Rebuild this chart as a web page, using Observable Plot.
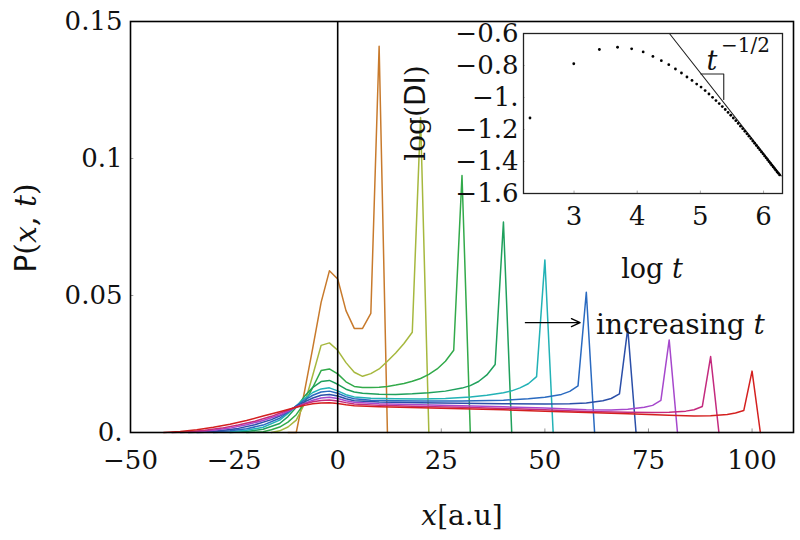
<!DOCTYPE html>
<html><head><meta charset="utf-8">
<script src="https://cdn.jsdelivr.net/npm/d3@7"></script>
<script src="https://cdn.jsdelivr.net/npm/@observablehq/plot@0.6"></script>
<style>
html,body{margin:0;padding:0;background:#fff;}
#wrap{position:relative;width:800px;height:540px;overflow:hidden;font-family:"DejaVu Serif",serif;color:#111;}
#wrap svg{position:absolute;overflow:visible;}
.lbl{position:absolute;white-space:nowrap;line-height:1;}
.sans{font-family:"DejaVu Sans",sans-serif;}
</style></head><body><div id="wrap"></div>
<script>
// ---- main panel data: P(x,t) curves, one per time (peak at x = 10,20,...,100)
const curve10 = [[-12,0],[-10,0],[-8,0.015],[-6,0.031],[-4,0.0475],[-2,0.059],[0,0.056],[2,0.0445],[4,0.038],[6,0.038],[8,0.0435],[10,0.141],[12,0]];
const curve20 = [[-16,0],[-14,0.0006],[-12,0.002],[-10,0.0045],[-8,0.0105],[-6,0.021],[-4,0.0318],[-2,0.0327],[0,0.030],[2,0.0255],[4,0.022],[6,0.0205],[8,0.0215],[10,0.0232],[12,0.026],[14,0.029],[16,0.0325],[18,0.0366],[20,0.115],[22,0]];
const curve30 = [[-22,0],[-18,0.0003],[-16,0.001],[-14,0.002],[-12,0.0038],[-10,0.0065],[-8,0.0108],[-6,0.0165],[-4,0.0226],[-2,0.0232],[0,0.0214],[2,0.0185],[4,0.0168],[6,0.0164],[8,0.0164],[10,0.0165],[12,0.0168],[14,0.0173],[16,0.0179],[18,0.0187],[20,0.0197],[22,0.0212],[24,0.0232],[26,0.026],[28,0.030],[30,0.0938],[32,0]];
const curve40 = [[-26,0],[-22,0.0004],[-18,0.0012],[-14,0.0033],[-12,0.0058],[-10,0.0092],[-8,0.0132],[-6,0.0165],[-4,0.0186],[-2,0.019],[0,0.0176],[2,0.0158],[4,0.0148],[6,0.0143],[10,0.014],[14,0.0139],[18,0.0141],[22,0.0145],[26,0.0151],[30,0.0162],[32,0.0171],[34,0.0186],[36,0.021],[38,0.0248],[40,0.0768],[42,0]];
const curve50 = [[-30,0],[-26,0.0003],[-22,0.0008],[-18,0.0019],[-14,0.0045],[-12,0.007],[-10,0.0097],[-8,0.0124],[-6,0.0146],[-4,0.0159],[-2,0.0163],[0,0.0152],[2,0.0138],[4,0.013],[8,0.0125],[14,0.0123],[20,0.0122],[26,0.0124],[32,0.013],[36,0.0136],[40,0.0145],[42,0.0152],[44,0.0163],[46,0.0178],[48,0.0204],[50,0.063],[52,0]];
const curve60 = [[-34,0],[-30,0.0002],[-26,0.0006],[-22,0.0014],[-18,0.0027],[-14,0.0052],[-12,0.0074],[-10,0.0097],[-8,0.0118],[-6,0.0136],[-4,0.0148],[-2,0.0151],[0,0.0143],[2,0.0131],[4,0.0123],[8,0.0118],[14,0.0116],[20,0.0115],[30,0.0115],[40,0.0118],[46,0.0123],[50,0.0129],[54,0.0139],[56,0.015],[58,0.017],[60,0.0512],[62,0]];
const curve70 = [[-36,0],[-32,0.0002],[-28,0.0007],[-24,0.0015],[-20,0.0028],[-16,0.0047],[-14,0.006],[-12,0.0077],[-10,0.0095],[-8,0.0112],[-6,0.0126],[-4,0.0136],[-2,0.0139],[0,0.0133],[2,0.0123],[4,0.0116],[10,0.0111],[20,0.0109],[30,0.0107],[40,0.0105],[50,0.0104],[56,0.0105],[60,0.0108],[64,0.0116],[66,0.0124],[68,0.0141],[70,0.038],[72,0]];
const curve80 = [[-38,0],[-34,0.0003],[-30,0.0008],[-26,0.0016],[-22,0.0028],[-18,0.0044],[-14,0.0064],[-12,0.0077],[-10,0.0092],[-8,0.0106],[-6,0.0118],[-4,0.0126],[-2,0.0129],[0,0.0124],[2,0.0116],[4,0.011],[10,0.0105],[20,0.0101],[30,0.0098],[40,0.0094],[50,0.0089],[60,0.0083],[66,0.0082],[70,0.0085],[74,0.0092],[76,0.0099],[78,0.0117],[80,0.0338],[82,0]];
const curve90 = [[-40,0],[-36,0.0003],[-32,0.0008],[-28,0.0016],[-24,0.0027],[-20,0.0041],[-16,0.0059],[-14,0.007],[-12,0.0081],[-10,0.0093],[-8,0.0104],[-6,0.0112],[-4,0.0117],[-2,0.0119],[0,0.0115],[2,0.0109],[4,0.0104],[10,0.0099],[20,0.0095],[30,0.0092],[40,0.0088],[50,0.0083],[60,0.0077],[70,0.0074],[76,0.0073],[80,0.0074],[84,0.0078],[86,0.0083],[88,0.0095],[90,0.0277],[92,0]];
const curve100 = [[-42,0],[-38,0.0004],[-34,0.001],[-30,0.0019],[-26,0.003],[-22,0.0044],[-18,0.006],[-14,0.0076],[-12,0.0084],[-10,0.0092],[-8,0.0099],[-6,0.0105],[-4,0.0108],[-2,0.0109],[0,0.0106],[2,0.0101],[4,0.0098],[10,0.0094],[20,0.009],[30,0.0087],[40,0.0083],[50,0.0078],[60,0.0073],[70,0.0068],[80,0.0063],[86,0.006],[90,0.0061],[94,0.0066],[96,0.0071],[98,0.008],[100,0.0224],[102,0]];
const curves = [curve10, curve20, curve30, curve40, curve50, curve60, curve70, curve80, curve90, curve100];
const curveColors = ["#c87a2c","#a6b83e","#32aa4a","#1fa05c","#22b2b6","#2a6ac0","#2b4fa8","#a648cc","#c42a7e","#d4201f"];

const xTicks = [-50, -25, 0, 25, 50, 75, 100];
const xTickLabels = ["−50", "−25", "0", "25", "50", "75", "100"];
const yTicks = [0, 0.05, 0.1, 0.15];
const yTickLabels = ["0.", "0.05", "0.1", "0.15"];

const arrowFrom = [45.3, 0.0401];
const arrowTo = [58.5, 0.0401];

// ---- inset data: log(DI) versus log t
const tValues = [10,20,30,40,50,60,70,80,90,100,110,120,130,140,150,160,170,180,190,200,210,220,230,240,250,260,270,280,290,300,310,320,330,340,350,360,370,380,390,400,410,420,430,440,450,460,470,480,490,500,510,520];
const logDI = [-1.128,-0.789,-0.700,-0.686,-0.696,-0.715,-0.743,-0.770,-0.795,-0.822,-0.847,-0.872,-0.893,-0.916,-0.935,-0.957,-0.978,-0.999,-1.019,-1.038,-1.057,-1.075,-1.093,-1.111,-1.128,-1.145,-1.162,-1.179,-1.195,-1.211,-1.227,-1.242,-1.257,-1.272,-1.286,-1.300,-1.314,-1.327,-1.340,-1.352,-1.365,-1.377,-1.389,-1.401,-1.412,-1.423,-1.434,-1.444,-1.454,-1.465,-1.474,-1.484];
const slopeLineX = [4.51, 6.28];
const slopeLineY = [-0.6, -1.49];
const markerX = [5.01, 5.37, 5.37];
const markerY = [-0.853, -0.853, -1.012];
const insetXTicks = [3, 4, 5, 6];
const insetYTicks = [-0.6, -0.8, -1.0, -1.2, -1.4, -1.6];
const insetYLabels = ["−0.6", "−0.8", "−1.", "−1.2", "−1.4", "−1.6"];

// ---- build tables
const rows = [];
curves.forEach((c, i) => c.forEach(([x, y]) => rows.push({x, y, k: i, c: curveColors[i]})));
const dots = tValues.map((t, i) => ({lt: Math.log(t), v: logDI[i]}));
const slopeRows = slopeLineX.map((x, i) => ({x, y: slopeLineY[i]}));
const markerRows = markerX.map((x, i) => ({x, y: markerY[i]}));

const wrap = document.getElementById("wrap");

const main = Plot.plot({
  width: 800, height: 540,
  marginLeft: 130, marginRight: 7, marginTop: 21, marginBottom: 108,
  style: {fontFamily: "DejaVu Serif", fontSize: "26px", color: "#111", background: "transparent"},
  x: {domain: [-50, 110]},
  y: {domain: [0, 0.15]},
  color: {type: "identity"},
  marks: [
    Plot.axisX({ticks: xTicks, tickFormat: (d) => xTickLabels[xTicks.indexOf(d)], tickSize: 0, tickPadding: 18, label: null}),
    Plot.axisY({ticks: yTicks, tickFormat: (d) => yTickLabels[yTicks.indexOf(d)], tickSize: 0, tickPadding: 8, label: null}),
    Plot.ruleX(xTicks, {x: d => d, y1: 0, y2: 0.0013, stroke: "#999"}),
    Plot.ruleY(yTicks, {y: d => d, x1: -50, x2: -49.2, stroke: "#999"}),
    Plot.line(rows, {x: "x", y: "y", z: "k", stroke: "c", strokeWidth: 1.5}),
    Plot.ruleX([0], {stroke: "#000", strokeWidth: 1.6}),
    Plot.arrow([0], {x1: () => arrowFrom[0], y1: () => arrowFrom[1], x2: () => arrowTo[0], y2: () => arrowTo[1], stroke: "#000", strokeWidth: 1.3, headLength: 11, headAngle: 50}),
    Plot.frame({stroke: "#000", strokeWidth: 1.6})
  ]
});
main.style.left = "0px"; main.style.top = "0px";
wrap.appendChild(main);

const inset = Plot.plot({
  width: 400, height: 215,
  marginLeft: 123, marginRight: 18, marginTop: 8, marginBottom: 47,
  style: {fontFamily: "DejaVu Serif", fontSize: "26px", color: "#111", background: "transparent"},
  x: {domain: [2.2, 6.3]},
  y: {domain: [-1.6, -0.6]},
  marks: [
    Plot.axisX({ticks: insetXTicks, tickFormat: d => String(d), tickSize: 0, tickPadding: 13, label: null}),
    Plot.axisY({ticks: insetYTicks, tickFormat: (d) => insetYLabels[insetYTicks.indexOf(d)], tickSize: 0, tickPadding: 5, label: null}),
    Plot.ruleX(insetXTicks, {x: d => d, y1: -1.6, y2: -1.585, stroke: "#aaa"}),
    Plot.ruleY(insetYTicks, {y: d => d, x1: 2.2, x2: 2.225, stroke: "#aaa"}),
    Plot.line(slopeRows, {x: "x", y: "y", stroke: "#222", strokeWidth: 1.1, clip: true}),
    Plot.line(markerRows, {x: "x", y: "y", stroke: "#222", strokeWidth: 1.1}),
    Plot.dot(dots, {x: "lt", y: "v", r: 1.4, fill: "#000", stroke: null}),
    Plot.frame({stroke: "#222", strokeWidth: 1.3})
  ]
});
inset.style.left = "400px"; inset.style.top = "25px";
wrap.appendChild(inset);

// ---- text labels
function label(html, x, y, size, anchor) {
  const d = document.createElement("div");
  d.className = "lbl";
  d.innerHTML = html;
  d.style.left = x + "px"; d.style.top = y + "px"; d.style.fontSize = size + "px";
  const tx = anchor === "start" ? "0" : "-50%";
  d.style.transform = `translate(${tx},-50%)`;
  wrap.appendChild(d);
  return d;
}
function rlabel(html, cx, cy, size) {
  const d = document.createElement("div");
  d.className = "lbl";
  d.innerHTML = html;
  d.style.fontSize = size + "px";
  wrap.appendChild(d);
  const w = d.offsetWidth, h = d.offsetHeight;
  d.style.left = (cx - w / 2) + "px"; d.style.top = (cy - h / 2) + "px";
  d.style.transform = "rotate(-90deg)";
  d.style.transformOrigin = "50% 50%";
}
rlabel('<span class="sans">P</span>(<i>x</i>, <i>t</i>)', 26, 228, 30);
label('<i>x</i>[a.u]', 462, 516, 28);
rlabel('log(<span class="sans">DI</span>)', 415, 113, 28);
label('log <i>t</i>', 652, 268, 27);
label('increasing <i>t</i>', 596, 325, 28, "start");
label('<i>t</i>', 712, 60, 27);
label('−1/2', 721, 45, 20, "start");
</script></body></html>
